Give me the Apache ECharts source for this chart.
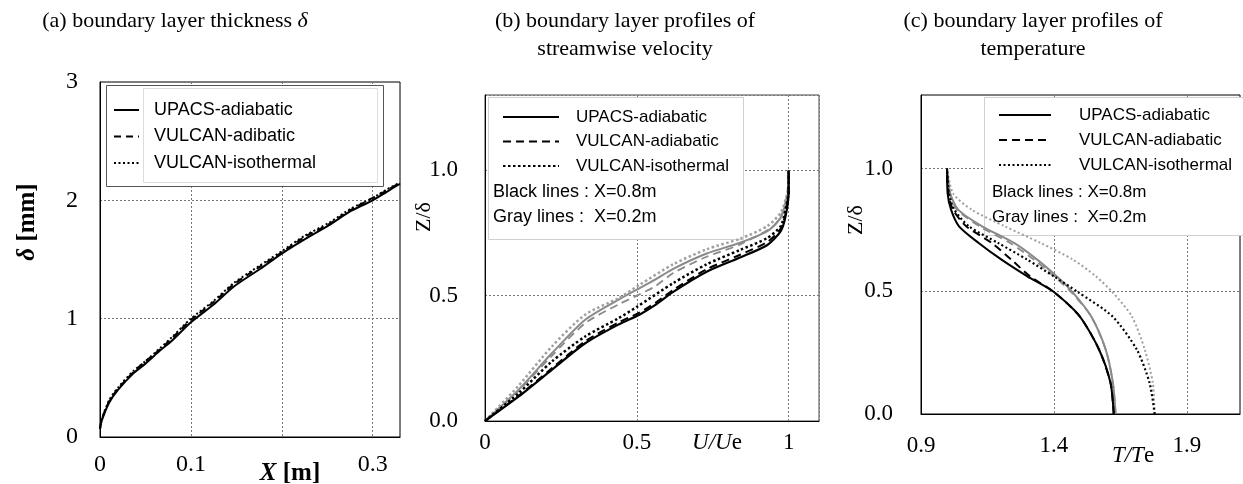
<!DOCTYPE html>
<html>
<head>
<meta charset="utf-8">
<script src="https://cdn.jsdelivr.net/npm/echarts@6/dist/echarts.min.js"></script>
<style>
html,body{margin:0;padding:0;background:#fff;}
#c{width:1243px;height:484px;}
</style>
</head>
<body>
<div id="c"></div>
<script>
// ---------- Panel (a): boundary layer thickness ----------
const aX          = [0, 0.002, 0.01, 0.02, 0.037, 0.05, 0.066, 0.08, 0.1, 0.125, 0.147, 0.176, 0.2, 0.225, 0.252, 0.276, 0.3, 0.315, 0.33];
const aUpacs      = [0.07, 0.14, 0.29, 0.40, 0.54, 0.62, 0.73, 0.82, 0.97, 1.12, 1.27, 1.42, 1.55, 1.67, 1.79, 1.91, 2.00, 2.07, 2.14];
const aVulcanAd   = [0.07, 0.15, 0.30, 0.41, 0.55, 0.64, 0.74, 0.84, 0.99, 1.14, 1.29, 1.44, 1.56, 1.69, 1.80, 1.92, 2.02, 2.08, 2.15];
const aVulcanIso  = [0.07, 0.15, 0.31, 0.42, 0.56, 0.64, 0.75, 0.85, 1.00, 1.15, 1.30, 1.45, 1.57, 1.70, 1.81, 1.93, 2.02, 2.09, 2.15];

// ---------- Panel (b): streamwise velocity profiles (U/Ue, Z/delta) ----------
const bU_upacs08 = [0, 0.11, 0.22, 0.33, 0.44, 0.51, 0.56, 0.62, 0.73, 0.84, 0.93, 0.974, 0.99, 1.0, 1.0];
const bZ_upacs08 = [0, 0.097, 0.204, 0.31, 0.385, 0.425, 0.462, 0.515, 0.595, 0.652, 0.702, 0.757, 0.817, 0.91, 1.0];
const bU_vad08   = [0, 0.11, 0.22, 0.33, 0.44, 0.51, 0.56, 0.62, 0.73, 0.84, 0.93, 0.974, 0.99, 1.0, 1.0];
const bZ_vad08   = [0, 0.10, 0.21, 0.318, 0.393, 0.433, 0.47, 0.523, 0.605, 0.663, 0.714, 0.767, 0.827, 0.915, 1.0];
const bU_viso08  = [0, 0.11, 0.22, 0.33, 0.44, 0.50, 0.62, 0.73, 0.84, 0.93, 0.974, 0.99, 1.0, 1.0];
const bZ_viso08  = [0, 0.11, 0.237, 0.337, 0.41, 0.455, 0.55, 0.625, 0.682, 0.73, 0.777, 0.844, 0.92, 1.0];
const bU_upacs02 = [0, 0.11, 0.22, 0.33, 0.44, 0.50, 0.56, 0.62, 0.73, 0.84, 0.93, 0.974, 0.99, 1.0, 1.0];
const bZ_upacs02 = [0, 0.124, 0.27, 0.404, 0.484, 0.524, 0.564, 0.607, 0.668, 0.711, 0.757, 0.811, 0.87, 0.93, 1.0];
const bU_vad02   = [0, 0.11, 0.22, 0.33, 0.44, 0.50, 0.56, 0.62, 0.73, 0.84, 0.95, 0.98, 0.995, 1.0];
const bZ_vad02   = [0, 0.12, 0.26, 0.39, 0.465, 0.50, 0.537, 0.59, 0.655, 0.704, 0.777, 0.83, 0.90, 1.0];
const bU_viso02  = [0, 0.11, 0.22, 0.33, 0.44, 0.51, 0.62, 0.73, 0.84, 0.93, 0.974, 0.99, 1.0, 1.0];
const bZ_viso02  = [0, 0.14, 0.297, 0.424, 0.49, 0.544, 0.625, 0.685, 0.727, 0.777, 0.831, 0.884, 0.94, 1.0];

// ---------- Panel (c): temperature profiles (T/Te, Z/delta) ----------
const cZ         = [0, 0.126, 0.262, 0.398, 0.497, 0.561, 0.629, 0.697, 0.765, 0.833, 0.9, 1.0];
const cT_upacs08 = [1.625, 1.613, 1.57, 1.497, 1.40, 1.30, 1.203, 1.117, 1.043, 1.013, 1.0, 0.998];
const cT_vad08   = [1.625, 1.613, 1.57, 1.497, 1.40, 1.31, 1.24, 1.166, 1.07, 1.02, 1.003, 0.998];
const cT_viso08  = [1.779, 1.76, 1.712, 1.62, 1.49, 1.40, 1.30, 1.19, 1.08, 1.025, 1.005, 0.998];
const cT_upacs02 = [1.632, 1.622, 1.595, 1.54, 1.47, 1.41, 1.337, 1.25, 1.13, 1.04, 1.01, 0.998];
const cT_vad02   = [1.632, 1.622, 1.595, 1.54, 1.465, 1.40, 1.325, 1.235, 1.12, 1.035, 1.008, 0.998];
const cT_viso02  = [1.779, 1.772, 1.742, 1.693, 1.62, 1.558, 1.472, 1.35, 1.215, 1.09, 1.02, 0.998];

// ---------- Tick labels / texts ----------
const aXTickLabels = {0: '0', 0.1: '0.1', 0.3: '0.3'};
const cXTickLabels = {0.9: '0.9', 1.4: '1.4', 1.9: '1.9'};
const legendNames = ['UPACS-adiabatic', 'VULCAN-adiabatic', 'VULCAN-isothermal'];
const legendNamesA = ['UPACS-adiabatic', 'VULCAN-adibatic', 'VULCAN-isothermal'];
const noteBlack = 'Black lines : X=0.8m';
const noteGray  = 'Gray lines :  X=0.2m';

const SERIF = '"Liberation Serif", "Times New Roman", serif';
const SANS  = '"Liberation Sans", Arial, sans-serif';
const BLACK = '#000';
const GRAY  = '#8a8a8a';
const LGRAY = '#a0a0a0';

function pairs(xs, ys) { return xs.map((x, i) => [x, ys[i]]); }
function line(name, idx, data, color, type, width) {
  return {
    type: 'line', name: name, xAxisIndex: idx, yAxisIndex: idx, data: data,
    symbol: 'none', showSymbol: false, smooth: 0.25, z: 2,
    color: color,
    lineStyle: {color: color, type: type, width: width, cap: 'butt'},
    emphasis: {disabled: true}, animation: false
  };
}
function near(v, table) {
  for (const k in table) { if (Math.abs(v - Number(k)) < 1e-6) return table[k]; }
  return '';
}
const gridLine = {show: true, lineStyle: {type: [2, 2], color: '#777', width: 1}};
const axisLineK = {show: true, lineStyle: {color: '#000', width: 1}};
function legend(prefix, names, left, top, iw, gap, fs, pad) {
  return {
    data: names.map(n => prefix + n), orient: 'vertical', left: left, top: top, padding: 0,
    itemWidth: iw, itemHeight: 14, itemGap: gap, selectedMode: false, z: 6,
    itemStyle: {opacity: 0, borderWidth: 0},
    formatter: n => n.split('|')[1],
    textStyle: {fontFamily: SANS, fontSize: fs, color: '#000', lineHeight: 20, padding: [0, 0, 0, pad]}
  };
}

const chart = echarts.init(document.getElementById('c'), null, {renderer: 'canvas'});
const option = {
  backgroundColor: '#fff',
  animation: false,
  grid: [
    {left: 100, top: 82, width: 300, height: 355, show: true, borderColor: '#000', borderWidth: 1, backgroundColor: 'transparent'},
    {left: 485, top: 95, width: 334, height: 326, show: true, borderColor: '#444', borderWidth: 1, backgroundColor: 'transparent'},
    {left: 921, top: 95, width: 325, height: 319, show: true, borderColor: '#000', borderWidth: 1, backgroundColor: 'transparent'}
  ],
  xAxis: [
    {gridIndex: 0, type: 'value', min: 0, max: 0.33, interval: 0.1, axisLine: axisLineK, axisTick: {show: false}, splitLine: gridLine,
     axisLabel: {fontFamily: SERIF, fontSize: 24, color: '#000', margin: 16, showMaxLabel: true, formatter: v => near(v, aXTickLabels)}},
    {gridIndex: 1, type: 'value', min: 0, max: 1.1, interval: 0.5, axisLine: axisLineK, axisTick: {show: false}, splitLine: gridLine,
     axisLabel: {fontFamily: SERIF, fontSize: 23, color: '#000', margin: 10, formatter: v => (Math.abs(v - 1.1) < 1e-6 ? '' : String(+v.toFixed(1)))}},
    {gridIndex: 2, type: 'value', min: 0.9, max: 2.1, interval: 0.5, axisLine: axisLineK, axisTick: {show: false}, splitLine: gridLine,
     axisLabel: {fontFamily: SERIF, fontSize: 23, color: '#000', margin: 20, formatter: v => near(v, cXTickLabels)}}
  ],
  yAxis: [
    {gridIndex: 0, type: 'value', min: 0, max: 3, interval: 1, axisLine: axisLineK, axisTick: {show: false}, splitLine: gridLine,
     axisLabel: {fontFamily: SERIF, fontSize: 24, color: '#000', margin: 22}},
    {gridIndex: 1, type: 'value', min: 0, max: 1.3, interval: 0.5, axisLine: axisLineK, axisTick: {show: false}, splitLine: gridLine,
     axisLabel: {fontFamily: SERIF, fontSize: 23, color: '#000', margin: 27, formatter: v => (Math.abs(v - 1.3) < 1e-6 ? '' : v.toFixed(1))}},
    {gridIndex: 2, type: 'value', min: 0, max: 1.3, interval: 0.5, axisLine: axisLineK, axisTick: {show: false}, splitLine: gridLine,
     axisLabel: {fontFamily: SERIF, fontSize: 23, color: '#000', margin: 28, formatter: v => (Math.abs(v - 1.3) < 1e-6 ? '' : v.toFixed(1))}}
  ],
  legend: [
    legend('a|', legendNamesA, 113, 100, 25, 6.5, 18, 10),
    legend('b|', legendNames, 502, 107, 56, 4.5, 17, 12),
    legend('c|', legendNames, 998, 105, 52, 5, 17, 23)
  ],
  series: [
    line('a|' + legendNamesA[0], 0, pairs(aX, aUpacs), BLACK, 'solid', 2),
    line('a|' + legendNamesA[1], 0, pairs(aX, aVulcanAd), BLACK, [7, 5], 2),
    line('a|' + legendNamesA[2], 0, pairs(aX, aVulcanIso), BLACK, [2, 2.5], 2),

    line('b2|' + legendNames[0], 1, pairs(bU_upacs02, bZ_upacs02), GRAY, 'solid', 2),
    line('b2|' + legendNames[1], 1, pairs(bU_vad02, bZ_vad02), GRAY, [8, 5], 1.8),
    line('b2|' + legendNames[2], 1, pairs(bU_viso02, bZ_viso02), LGRAY, [2.5, 2.5], 2.5),
    line('b|' + legendNames[0], 1, pairs(bU_upacs08, bZ_upacs08), BLACK, 'solid', 2.2),
    line('b|' + legendNames[1], 1, pairs(bU_vad08, bZ_vad08), BLACK, [8, 5], 2),
    line('b|' + legendNames[2], 1, pairs(bU_viso08, bZ_viso08), BLACK, [2.5, 2.5], 2.5),

    line('c2|' + legendNames[0], 2, pairs(cT_upacs02, cZ), GRAY, 'solid', 2),
    line('c2|' + legendNames[1], 2, pairs(cT_vad02, cZ), GRAY, [8, 5], 1.8),
    line('c2|' + legendNames[2], 2, pairs(cT_viso02, cZ), LGRAY, [2, 2.5], 2),
    line('c|' + legendNames[0], 2, pairs(cT_upacs08, cZ), BLACK, 'solid', 2),
    line('c|' + legendNames[1], 2, pairs(cT_vad08, cZ), BLACK, [8, 5], 2),
    line('c|' + legendNames[2], 2, pairs(cT_viso08, cZ), BLACK, [2, 2.5], 2.2)
  ],
  graphic: {elements: [
    // legend boxes
    {type: 'rect', z: 1, shape: {x: 106.5, y: 85.5, width: 277, height: 101}, style: {fill: '#fff', stroke: '#555', lineWidth: 1}},
    {type: 'rect', z: 1, shape: {x: 143.5, y: 88.5, width: 234, height: 94}, style: {fill: 'none', stroke: '#ddd', lineWidth: 1}},
    {type: 'rect', z: 1, shape: {x: 488.5, y: 97.5, width: 255, height: 142}, style: {fill: '#fff', stroke: '#d0d0d0', lineWidth: 1}},
    {type: 'rect', z: 1, shape: {x: 984.5, y: 97.5, width: 270, height: 138}, style: {fill: '#fff', stroke: '#d0d0d0', lineWidth: 1}},
    // legend notes
    {type: 'text', z: 7, x: 493, y: 192, style: {text: noteBlack, font: '18px ' + SANS, fill: '#000', textAlign: 'left', textVerticalAlign: 'middle'}},
    {type: 'text', z: 7, x: 493, y: 217, style: {text: noteGray, font: '18px ' + SANS, fill: '#000', textAlign: 'left', textVerticalAlign: 'middle'}},
    {type: 'text', z: 7, x: 992, y: 192, style: {text: noteBlack, font: '17px ' + SANS, fill: '#000', textAlign: 'left', textVerticalAlign: 'middle'}},
    {type: 'text', z: 7, x: 992, y: 217, style: {text: noteGray, font: '17px ' + SANS, fill: '#000', textAlign: 'left', textVerticalAlign: 'middle'}},
    // titles
    {type: 'text', z: 7, x: 175, y: 21, style: {text: '{n|(a) boundary layer thickness }{i|δ}', textAlign: 'center', textVerticalAlign: 'middle',
      rich: {n: {fontFamily: SERIF, fontSize: 22, color: '#000'}, i: {fontFamily: SERIF, fontSize: 22, fontStyle: 'italic', color: '#000'}}}},
    {type: 'text', z: 7, x: 625, y: 21, style: {text: '(b) boundary layer profiles of', font: '22px ' + SERIF, fill: '#000', textAlign: 'center', textVerticalAlign: 'middle'}},
    {type: 'text', z: 7, x: 625, y: 49, style: {text: 'streamwise velocity', font: '22px ' + SERIF, fill: '#000', textAlign: 'center', textVerticalAlign: 'middle'}},
    {type: 'text', z: 7, x: 1033, y: 21, style: {text: '(c) boundary layer profiles of', font: '22px ' + SERIF, fill: '#000', textAlign: 'center', textVerticalAlign: 'middle'}},
    {type: 'text', z: 7, x: 1033, y: 49, style: {text: 'temperature', font: '22px ' + SERIF, fill: '#000', textAlign: 'center', textVerticalAlign: 'middle'}},
    // axis names
    {type: 'text', z: 7, x: 28, y: 222, rotation: Math.PI / 2, style: {text: '{bi|δ}{b| [mm]}', textAlign: 'center', textVerticalAlign: 'middle',
      rich: {bi: {fontFamily: SERIF, fontSize: 25, fontWeight: 'bold', fontStyle: 'italic', color: '#000'}, b: {fontFamily: SERIF, fontSize: 25, fontWeight: 'bold', color: '#000'}}}},
    {type: 'text', z: 7, x: 290, y: 474, style: {text: '{bi|X}{b| [m]}', textAlign: 'center', textVerticalAlign: 'middle',
      rich: {bi: {fontFamily: SERIF, fontSize: 25, fontWeight: 'bold', fontStyle: 'italic', color: '#000'}, b: {fontFamily: SERIF, fontSize: 25, fontWeight: 'bold', color: '#000'}}}},
    {type: 'text', z: 7, x: 424, y: 217, rotation: Math.PI / 2, style: {text: 'Z/δ', font: '22px ' + SERIF, fill: '#000', textAlign: 'center', textVerticalAlign: 'middle'}},
    {type: 'text', z: 7, x: 717, y: 443, style: {text: '{i|U/U}{n|e}', textAlign: 'center', textVerticalAlign: 'middle',
      rich: {i: {fontFamily: SERIF, fontSize: 23, fontStyle: 'italic', color: '#000'}, n: {fontFamily: SERIF, fontSize: 23, color: '#000'}}}},
    {type: 'text', z: 7, x: 856, y: 220, rotation: Math.PI / 2, style: {text: 'Z/δ', font: '22px ' + SERIF, fill: '#000', textAlign: 'center', textVerticalAlign: 'middle'}},
    {type: 'text', z: 7, x: 1133, y: 456, style: {text: '{i|T/T}{n|e}', textAlign: 'center', textVerticalAlign: 'middle',
      rich: {i: {fontFamily: SERIF, fontSize: 23, fontStyle: 'italic', color: '#000'}, n: {fontFamily: SERIF, fontSize: 23, color: '#000'}}}}
  ]}
};
chart.setOption(option);
</script>
</body>
</html>
